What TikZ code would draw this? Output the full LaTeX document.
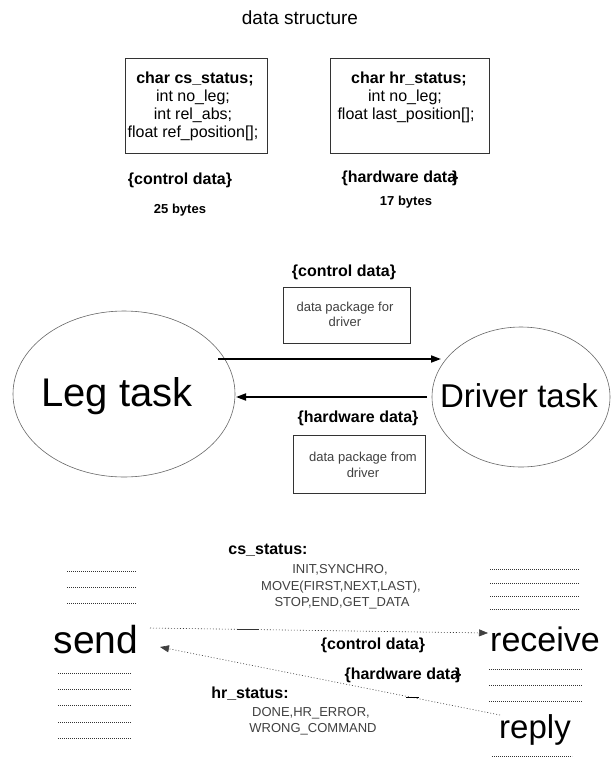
\documentclass[tikz,border=0pt]{standalone}
\usepackage{fontspec}
\setmainfont{Liberation Sans}
\usetikzlibrary{arrows.meta,shapes.geometric}
\begin{document}
\begin{tikzpicture}[x=1pt,y=-1pt,
  txt/.style={anchor=base, inner sep=0pt, font=\fontsize{16}{18}\selectfont},
  btxt/.style={anchor=base, inner sep=0pt, font=\fontsize{16}{18}\selectfont\bfseries},
  sbtxt/.style={anchor=base, inner sep=0pt, font=\fontsize{13}{15}\selectfont\bfseries},
  smalltxt/.style={anchor=base, inner sep=0pt, font=\fontsize{13}{15}\selectfont, text=black!75},
  bigtxt/.style={anchor=base, inner sep=0pt},
  databox/.style={draw=black!80, line width=0.7pt},
  taskell/.style={draw=black!60, line width=0.6pt, ellipse, inner sep=0pt},
  dotrow/.style={line width=0.8pt, dash pattern=on 0.8pt off 1.2pt, black!80},
  flow/.style={line width=1.8pt, -{Triangle[length=10pt,width=7pt]}},
  msg/.style={line width=0.6pt, black!75, dash pattern=on 1pt off 2pt, -{Triangle[length=9pt,width=7pt]}}
]
\useasboundingbox (0,0) rectangle (611,769);

% ---------- title & data structures ----------
\node[anchor=base, inner sep=0pt, font=\fontsize{19}{22}\selectfont] (title) at (300,24) {data structure};

\draw[databox] (125,58) rectangle (267,153);
\node[btxt] (cs1) at (195,83) {char cs\_status;};
\node[txt] (cs2) at (193,101) {int no\_leg;};
\node[txt] (cs3) at (193,119) {int rel\_abs;};
\node[txt] (cs4) at (193,137) {float ref\_position[];};

\draw[databox] (330,58) rectangle (489,153);
\node[btxt] (hr1) at (409,83) {char hr\_status;};
\node[txt] (hr2) at (405,101) {int no\_leg;};
\node[txt] (hr3) at (406,119) {float last\_position[];};

\node[btxt] (cdA) at (180,184) {\{control data\}};
\node[btxt] (hdA) at (400,182) {\{hardware data\kern-4pt\}};
\node[sbtxt] (b25) at (180,213) {25 bytes};
\node[sbtxt] (b17) at (406,205) {17 bytes};

% ---------- tasks ----------
\node[taskell, minimum width=222pt, minimum height=166pt] (legE) at (124,394) {};
\node[taskell, minimum width=178pt, minimum height=140pt] (drvE) at (521,397) {};
\node[bigtxt, font=\fontsize{40}{44}\selectfont] (legT) at (117,406) {Leg task};
\node[bigtxt, font=\fontsize{33}{38}\selectfont] (drvT) at (519,407) {Driver task};

\node[btxt] (cdB) at (344,276) {\{control data\}};
\draw[databox] (283,287) rectangle (410,343);
\node[smalltxt] (pk1) at (345,311) {data package for};
\node[smalltxt] (pk2) at (345,326) {driver};

\node[btxt] (hdB) at (358,422) {\{hardware data\}};
\draw[databox] (293,435) rectangle (425,493);
\node[smalltxt] (pk3) at (363,461) {data package from};
\node[smalltxt] (pk4) at (363,477) {driver};

\coordinate (f1s) at (218,359);
\coordinate (f1e) at (441,359);
\coordinate (f2s) at (427,397);
\coordinate (f2e) at (236,397);
\draw[flow] (f1s) -- (f1e);
\draw[flow] (f2s) -- (f2e);

% ---------- send / receive / reply ----------
\node[bigtxt, font=\fontsize{39}{44}\selectfont] (send) at (96,653) {send};
\node[bigtxt, font=\fontsize{34}{40}\selectfont] (recv) at (545,651) {receive};
\node[bigtxt, font=\fontsize{33}{38}\selectfont] (reply) at (535,738) {reply};

\foreach \yy in {571,587,603} \draw[dotrow] (67,\yy) -- (136,\yy);
\foreach \yy in {673,689,705,722,738} \draw[dotrow] (58,\yy) -- (131,\yy);
\foreach \yy in {569,583,596,609} \draw[dotrow] (490,\yy) -- (579,\yy);
\foreach \yy in {669,685,701} \draw[dotrow] (489,\yy) -- (582,\yy);
\draw[dotrow] (492,756) -- (572,756);

\node[btxt] (css) at (268,554) {cs\_status:};
\node[smalltxt] (cl1) at (340,573) {INIT,SYNCHRO,};
\node[smalltxt] (cl2) at (341,590) {MOVE(FIRST,NEXT,LAST),};
\node[smalltxt] (cl3) at (342,606) {STOP,END,GET\_DATA};

\node[btxt] (cdC) at (373,649) {\{control data\}};
\node[btxt] (hdC) at (403,679) {\{hardware data\kern-4pt\}};
\node[btxt] (hrs) at (250,698) {hr\_status:};
\node[smalltxt] (hl1) at (311,716) {DONE,HR\_ERROR,};
\node[smalltxt] (hl2) at (313,732) {WRONG\_COMMAND};

\coordinate (m1s) at (150,628);
\coordinate (m1e) at (488,633);
\coordinate (m2s) at (500,715);
\coordinate (m2e) at (160,647);
\draw[msg] (m1s) -- (m1e);
\draw[msg] (m2s) -- (m2e);
\draw[line width=0.8pt, black!80] (237,629) -- (259,629);
\draw[line width=1pt] (406,697) -- (419,697);

\end{tikzpicture}
\end{document}
